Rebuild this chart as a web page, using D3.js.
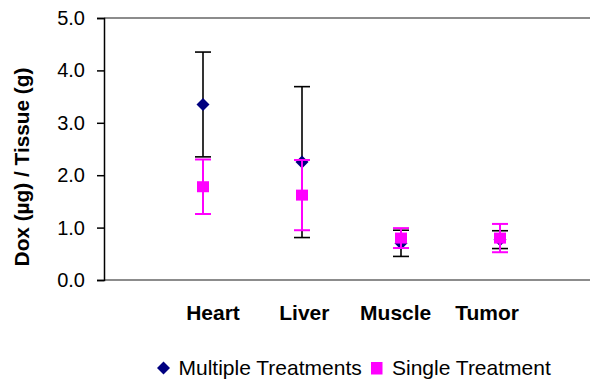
<!DOCTYPE html>
<html>
<head>
<meta charset="utf-8">
<script src="https://cdn.jsdelivr.net/npm/d3@7"></script>
<style>
  html, body { margin: 0; padding: 0; background: #fff; }
  svg { display: block; font-family: "Liberation Sans", Arial, Helvetica, sans-serif; }
</style>
</head>
<body>
<svg id="chart" width="590" height="379"></svg>
<script>
// ---- Data ----
const categories = ["Heart", "Liver", "Muscle", "Tumor"];
const multipleMean = [3.35, 2.25, 0.70, 0.77];
const multipleErr  = [1.00, 1.44, 0.25, 0.17];
const singleMean   = [1.78, 1.62, 0.80, 0.80];
const singleErr    = [0.52, 0.67, 0.19, 0.27];
const yTicks = [0, 1, 2, 3, 4, 5];
const seriesNames = ["Multiple Treatments", "Single Treatment"];

const navy = "#000080", pink = "#FF00FF";

const svg = d3.select("#chart");
const pLeft = 104, pTop = 18, pBottom = 280, pRight = 590;

const y = d3.scaleLinear().domain([0, 5]).range([pBottom, pTop]);
const x = d3.scaleLinear().domain([0, 5]).range([pLeft, 599]);
const xLabel = d3.scalePoint().domain(categories).range([213, 487]);

// plot border lines (top & bottom, grey)
svg.append("line").attr("x1", pLeft).attr("x2", pRight).attr("y1", y(5)).attr("y2", y(5))
  .attr("stroke", "#8c8c8c").attr("stroke-width", 2);
svg.append("line").attr("x1", pLeft).attr("x2", pRight).attr("y1", y(0)).attr("y2", y(0))
  .attr("stroke", "#8c8c8c").attr("stroke-width", 2);

// y axis
const yAxis = d3.axisLeft(y).tickValues(yTicks).tickFormat(d3.format(".1f")).tickSize(7).tickPadding(12);
const gy = svg.append("g").attr("transform", `translate(${pLeft},0)`).call(yAxis);
gy.select(".domain").attr("stroke", "#000").attr("stroke-width", 1.5);
gy.selectAll(".tick line").attr("stroke", "#000").attr("stroke-width", 1.5);
gy.selectAll(".tick text").attr("font-size", 20).attr("fill", "#000")
  .attr("font-family", "'Liberation Sans', Arial, sans-serif");

// y title
svg.append("text")
  .attr("transform", `translate(29,167) rotate(-90)`)
  .attr("text-anchor", "middle")
  .attr("font-size", 20.8).attr("font-weight", "bold")
  .text("Dox (µg) / Tissue (g)");

// category labels
svg.append("g").selectAll("text").data(categories).join("text")
  .attr("transform", d => `translate(${xLabel(d)},320) scale(1.05,1)`)
  .attr("text-anchor", "middle").attr("font-size", 20).attr("font-weight", "bold")
  .text(d => d);

function errorBars(means, errs, color, sw, cap) {
  const g = svg.append("g").attr("stroke", color).attr("stroke-width", sw);
  means.forEach((m, i) => {
    const cx = x(i + 1);
    g.append("line").attr("x1", cx).attr("x2", cx).attr("y1", y(m - errs[i])).attr("y2", y(m + errs[i]));
    [m - errs[i], m + errs[i]].forEach(v => {
      g.append("line").attr("x1", cx - cap).attr("x2", cx + cap).attr("y1", y(v)).attr("y2", y(v));
    });
  });
}

// Multiple treatments
errorBars(multipleMean, multipleErr, "#000", 1.6, 8);
svg.append("g").selectAll("path").data(multipleMean).join("path")
  .attr("d", "M0,-6.5L6.5,0L0,6.5L-6.5,0Z")
  .attr("transform", (d, i) => `translate(${x(i + 1)},${y(d)})`)
  .attr("fill", navy);

// Single treatment
errorBars(singleMean, singleErr, pink, 2, 8);
svg.append("g").selectAll("rect").data(singleMean).join("rect")
  .attr("x", (d, i) => x(i + 1) - 6).attr("y", d => y(d) - 5.5)
  .attr("width", 12).attr("height", 11)
  .attr("fill", pink);

// legend
const lg = svg.append("g");
lg.append("path").attr("d", "M0,-6.5L6.5,0L0,6.5L-6.5,0Z").attr("transform", "translate(163.5,368)").attr("fill", navy);
lg.append("text").attr("x", 178.5).attr("y", 374.5).attr("font-size", 21).text(seriesNames[0]);
lg.append("rect").attr("x", 371).attr("y", 362).attr("width", 11.5).attr("height", 12.5).attr("fill", pink);
lg.append("text").attr("x", 392).attr("y", 374.5).attr("font-size", 21).text(seriesNames[1]);
</script>
</body>
</html>
